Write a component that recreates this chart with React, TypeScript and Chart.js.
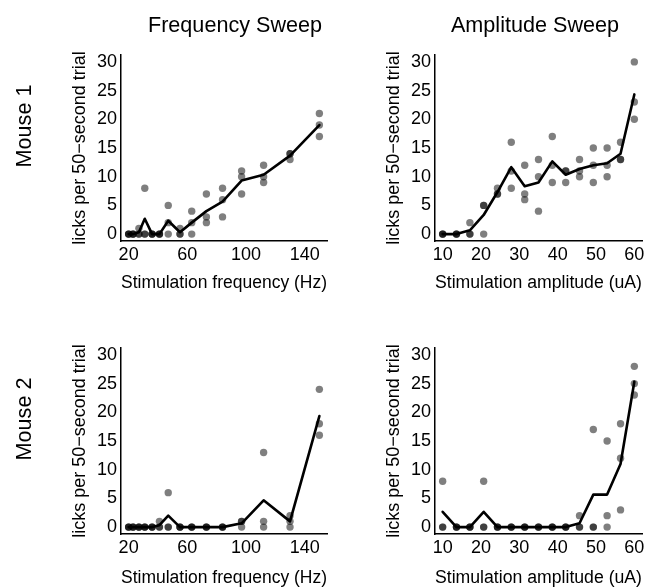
import React, { useEffect, useRef } from "react";
import { Chart, registerables } from "chart.js";

Chart.register(...registerables);

// ---- data ----
const freqLevels = [20, 23, 27, 31, 36, 41, 47, 55, 63, 73, 84, 97, 112, 130, 150];
const ampLevels = [10, 13.6, 17.1, 20.7, 24.3, 27.9, 31.4, 35, 38.6, 42.1, 45.7, 49.3, 52.9, 56.4, 60];

const mouse1Freq = [
  [0, 0, 0], [0, 0, 0], [1, 0, 0], [8, 0, 0], [0, 0, 0], [0, 0, 0], [5, 2, 0], [1, 0, 0],
  [4, 2, 0], [7, 3, 2], [8, 6, 3], [11, 10, 7], [12, 10, 9], [14, 14, 13], [21, 19, 17],
];
const mouse1Amp = [
  [0, 0, 0], [0, 0, 0], [2, 0, 0], [5, 5, 0], [8, 7, 7], [16, 11, 8], [12, 7, 6], [13, 10, 4],
  [17, 12, 9], [11, 11, 9], [13, 11, 10], [15, 12, 9], [15, 12, 10], [16, 13, 13], [30, 23, 20],
];
const mouse2Freq = [
  [0, 0, 0], [0, 0, 0], [0, 0, 0], [0, 0, 0], [0, 0, 0], [1, 0, 0], [6, 0, 0], [0, 0, 0],
  [0, 0, 0], [0, 0, 0], [0, 0, 0], [1, 1, 0], [13, 1, 0], [2, 1, 0], [24, 18, 16],
];
const mouse2Amp = [
  [8, 0, 0], [0, 0, 0], [0, 0, 0], [8, 0, 0], [0, 0, 0], [0, 0, 0], [0, 0, 0], [0, 0, 0],
  [0, 0, 0], [0, 0, 0], [2, 0, 0], [17, 0, 0], [15, 2, 0], [18, 12, 3], [28, 25, 23],
];

const yTicks = [0, 5, 10, 15, 20, 25, 30];
const freqTicks = [20, 60, 100, 140];
const ampTicks = [10, 20, 30, 40, 50, 60];

const columnTitles = ["Frequency Sweep", "Amplitude Sweep"];
const rowTitles = ["Mouse 1", "Mouse 2"];
const yTitle = "licks per 50\u2212second trial";
const freqTitle = "Stimulation frequency (Hz)";
const ampTitle = "Stimulation amplitude (uA)";

// ---- layout ----
const FONT = "'Liberation Sans', Arial, Helvetica, sans-serif";
const CW = 680;
const CH = 620;
const Y_AXIS_W = 52;

type Area = { left: number; top: number; right: number; bottom: number };
type Panel = {
  levels: number[];
  trials: number[][];
  xTicks: number[];
  xMin: number;
  xMax: number;
  xTitle: string;
  area: Area;
  xAxisH: number;
};

const panels: Panel[] = [
  { levels: freqLevels, trials: mouse1Freq, xTicks: freqTicks, xMin: 14.8, xMax: 155.2, xTitle: freqTitle,
    area: { left: 121, top: 55, right: 327, bottom: 241 }, xAxisH: 53 },
  { levels: ampLevels, trials: mouse1Amp, xTicks: ampTicks, xMin: 8, xMax: 62, xTitle: ampTitle,
    area: { left: 435, top: 55, right: 642, bottom: 241 }, xAxisH: 53 },
  { levels: freqLevels, trials: mouse2Freq, xTicks: freqTicks, xMin: 14.8, xMax: 155.2, xTitle: freqTitle,
    area: { left: 121, top: 348, right: 327, bottom: 534 }, xAxisH: 55 },
  { levels: ampLevels, trials: mouse2Amp, xTicks: ampTicks, xMin: 8, xMax: 62, xTitle: ampTitle,
    area: { left: 435, top: 348, right: 642, bottom: 534 }, xAxisH: 55 },
];

function makeChart(canvas: HTMLCanvasElement, p: Panel): Chart {
  const points = p.levels.flatMap((x, i) => p.trials[i].map((y) => ({ x, y })));
  const means = p.levels.map((x, i) => ({
    x,
    y: p.trials[i].reduce((a, b) => a + b, 0) / p.trials[i].length,
  }));
  const tickFont = { family: FONT, size: 18 };
  return new Chart(canvas, {
    type: "scatter",
    data: {
      datasets: [
        {
          data: means,
          showLine: true,
          borderColor: "#000",
          borderWidth: 2.6,
          pointRadius: 0,
          tension: 0,
          fill: false,
          borderCapStyle: "round",
          borderJoinStyle: "round",
          clip: false,
        } as any,
        {
          data: points,
          showLine: false,
          backgroundColor: "rgba(0,0,0,0.5)",
          borderWidth: 0,
          pointRadius: 3.7,
          clip: false,
        } as any,
      ],
    },
    options: {
      responsive: false,
      maintainAspectRatio: false,
      animation: false,
      devicePixelRatio: 1,
      events: [],
      layout: {
        padding: {
          left: p.area.left - Y_AXIS_W,
          top: p.area.top,
          right: CW - p.area.right,
          bottom: CH - p.area.bottom - p.xAxisH,
        },
      },
      plugins: {
        legend: { display: false },
        tooltip: { enabled: false },
        title: { display: false },
      },
      scales: {
        x: {
          type: "linear",
          min: p.xMin,
          max: p.xMax,
          grid: { display: false, drawTicks: false },
          border: { display: true, color: "#000", width: 1.5 },
          ticks: {
            color: "#000",
            font: tickFont,
            padding: 3,
            maxRotation: 0,
            autoSkip: false,
            callback: (v: any) => String(v),
          },
          afterBuildTicks: (s: any) => {
            s.ticks = p.xTicks.map((v) => ({ value: v }));
          },
          afterFit: (s: any) => {
            s.height = p.xAxisH;
          },
          title: {
            display: true,
            text: p.xTitle,
            color: "#000",
            font: tickFont,
            padding: { top: 0, bottom: 0 },
          },
        },
        y: {
          type: "linear",
          min: -1.2,
          max: 31.2,
          grid: { display: false, drawTicks: false },
          border: { display: true, color: "#000", width: 1.5 },
          ticks: {
            color: "#000",
            font: tickFont,
            padding: 4,
            autoSkip: false,
            callback: (v: any) => String(v),
          },
          afterBuildTicks: (s: any) => {
            s.ticks = yTicks.map((v) => ({ value: v }));
          },
          afterFit: (s: any) => {
            s.width = Y_AXIS_W;
          },
          title: {
            display: true,
            text: yTitle,
            color: "#000",
            font: tickFont,
            padding: { top: 0, bottom: 0 },
          },
        },
      },
    } as any,
  });
}

const textBase: React.CSSProperties = {
  position: "absolute",
  fontFamily: FONT,
  fontSize: 21.6,
  lineHeight: 1,
  whiteSpace: "nowrap",
  color: "#000",
};

export default function App() {
  const refs = [
    useRef<HTMLCanvasElement>(null),
    useRef<HTMLCanvasElement>(null),
    useRef<HTMLCanvasElement>(null),
    useRef<HTMLCanvasElement>(null),
  ];

  useEffect(() => {
    const charts = panels.map((p, i) => makeChart(refs[i].current as HTMLCanvasElement, p));
    return () => charts.forEach((c) => c.destroy());
  }, []);

  const colCenters = [235, 535];
  const rowCenters = [126, 419];

  return (
    <div
      style={{
        position: "absolute",
        left: 0,
        top: 0,
        width: 646,
        height: 587,
        overflow: "hidden",
        background: "#fff",
      }}
    >
      {refs.map((r, i) => (
        <canvas
          key={i}
          ref={r}
          width={CW}
          height={CH}
          style={{ position: "absolute", left: 0, top: 0, width: CW, height: CH }}
        />
      ))}
      {columnTitles.map((t, i) => (
        <div
          key={t}
          style={{
            ...textBase,
            left: colCenters[i],
            top: 25,
            transform: "translate(-50%, -50%)",
          }}
        >
          {t}
        </div>
      ))}
      {rowTitles.map((t, i) => (
        <div
          key={t}
          style={{
            ...textBase,
            left: 24,
            top: rowCenters[i],
            transform: "translate(-50%, -50%) rotate(-90deg)",
          }}
        >
          {t}
        </div>
      ))}
    </div>
  );
}
